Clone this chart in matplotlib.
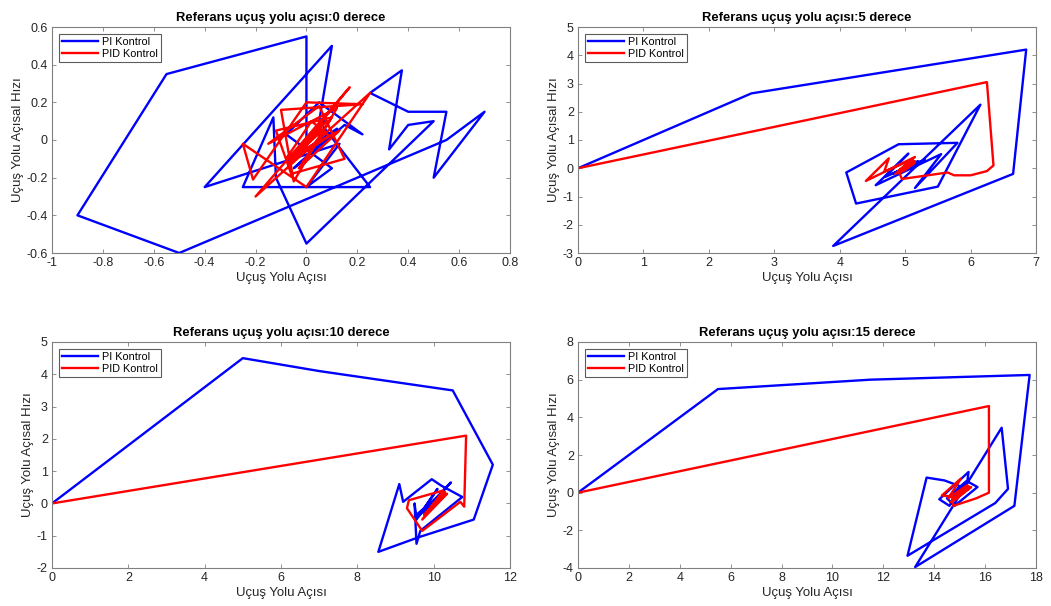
import numpy as np
import matplotlib
matplotlib.use("Agg")
import matplotlib.pyplot as plt

plt.rcParams["font.family"] = ["Liberation Sans", "DejaVu Sans"]
plt.rcParams["axes.unicode_minus"] = False

# ---- veri: 0 derece ----
pi0_x = [0.0, 0.0, -0.55, -0.9, -0.5, 0.55, 0.7, 0.5, 0.55, 0.4, 0.25, 0.375, 0.325, 0.4, 0.5,
         0.0, -0.12, -0.13, -0.25, 0.25, 0.05, 0.1, -0.4, 0.13, 0.0, 0.1, -0.08, 0.05, 0.22,
         0.15, -0.05, 0.12, -0.06, 0.07, -0.03, 0.06, -0.02, 0.05, -0.01, 0.04, 0.0]
pi0_y = [0.0, 0.55, 0.35, -0.4, -0.6, 0.0, 0.15, -0.2, 0.15, 0.15, 0.25, 0.37, -0.05, 0.08, 0.1,
         -0.55, -0.2, 0.12, -0.25, -0.25, 0.1, 0.5, -0.25, -0.02, -0.25, -0.15, 0.03, 0.2, 0.03,
         0.08, -0.15, 0.06, -0.1, 0.1, -0.05, 0.08, -0.04, 0.06, -0.02, 0.04, 0.0]
pid0_x = [0.0, 0.17, -0.2, 0.25, 0.0, -0.25, -0.21, 0.0, 0.22, -0.1, -0.05, 0.12, -0.15, 0.05,
          0.15, -0.06, -0.12, 0.1, -0.03, 0.13, -0.08, 0.02, 0.09, -0.07, 0.06, -0.04, 0.08,
          -0.06, 0.07, -0.05, 0.06, -0.03, 0.05, -0.04, 0.04, -0.02, 0.05, -0.03, 0.03, -0.01,
          0.04, -0.02, 0.02, 0.0]
pid0_y = [0.0, 0.28, -0.3, 0.25, -0.25, -0.02, -0.21, 0.2, 0.19, 0.16, -0.22, 0.17, -0.02, 0.18,
          -0.1, -0.18, 0.05, 0.12, -0.15, 0.05, -0.1, 0.1, 0.02, -0.12, 0.08, -0.06, 0.1,
          -0.1, 0.06, -0.08, 0.09, -0.07, 0.05, -0.09, 0.07, -0.04, 0.06, -0.06, 0.04, -0.05,
          0.05, -0.03, 0.03, 0.0]

# ---- veri: 5 derece ----
pi5_x = [0.0, 2.65, 6.85, 6.65, 3.9, 6.15, 5.5, 4.25, 4.1, 4.9, 5.8, 5.15, 5.55, 4.55, 5.05,
         4.7, 5.3, 4.8, 5.2, 4.85, 5.15, 4.9, 5.1, 4.95, 5.08, 4.97, 5.05, 5.0]
pi5_y = [0.0, 2.65, 4.2, -0.2, -2.75, 2.25, -0.65, -1.25, -0.15, 0.85, 0.9, -0.7, 0.5, -0.6, 0.52,
         -0.3, 0.3, -0.2, 0.25, -0.15, 0.2, -0.1, 0.12, -0.08, 0.08, -0.04, 0.05, 0.0]
pid5_x = [0.0, 6.25, 6.35, 6.25, 6.0, 5.75, 5.65, 4.95, 4.9, 5.15, 4.4, 4.75, 4.68, 5.1, 4.85,
          5.15, 4.9, 5.12, 4.95, 5.15, 4.92, 5.12, 4.97, 5.14, 4.95, 5.1, 5.0, 5.12, 5.02, 5.1,
          4.98, 5.08, 5.03, 5.06, 5.0]
pid5_y = [0.0, 3.05, 0.1, -0.1, -0.25, -0.25, -0.15, -0.38, -0.1, 0.4, -0.45, 0.35, -0.12, 0.3,
          -0.2, 0.25, -0.15, 0.28, -0.12, 0.22, -0.05, 0.3, -0.1, 0.18, 0.0, 0.25, -0.05, 0.2,
          0.02, 0.15, -0.02, 0.12, 0.05, 0.08, 0.0]

# ---- veri: 10 derece ----
pi10_x = [0.0, 5.0, 7.0, 10.5, 11.55, 11.05, 9.6, 8.55, 9.1, 9.2, 9.95, 10.2, 10.75, 9.65, 9.55,
          9.5, 9.55, 10.1, 9.6, 10.45, 9.75, 10.3, 9.55, 10.25, 9.8, 10.2, 9.85, 10.15, 9.9,
          10.1, 9.95, 10.05, 10.0]
pi10_y = [0.0, 4.5, 4.1, 3.5, 1.2, -0.5, -1.05, -1.5, 0.6, 0.05, 0.75, 0.55, 0.2, -0.85, -1.25,
          0.0, -0.5, 0.45, -0.4, 0.65, -0.3, 0.3, -0.35, 0.35, -0.2, 0.25, -0.15, 0.2, -0.1,
          0.1, -0.05, 0.05, 0.0]
pid10_x = [0.0, 10.85, 10.8, 10.7, 9.7, 9.3, 9.35, 10.25, 9.7, 10.35, 9.75, 10.25, 9.8, 10.3,
           9.85, 10.2, 9.9, 10.25, 9.92, 10.15, 9.95, 10.12, 9.98, 10.08, 10.0]
pid10_y = [0.0, 2.1, -0.1, 0.05, -0.85, -0.15, 0.1, 0.4, -0.5, 0.3, -0.35, 0.25, -0.3, 0.35,
           -0.25, 0.2, -0.2, 0.3, -0.12, 0.15, -0.1, 0.12, -0.05, 0.06, 0.0]

# ---- veri: 15 derece ----
pi15_x = [0.0, 5.5, 11.5, 17.75, 17.15, 13.25, 16.65, 16.9, 16.4, 12.95, 13.7, 14.4, 15.0, 14.6,
          14.2, 15.35, 15.3, 15.7, 14.8, 14.5, 15.25, 14.7, 15.2, 14.8, 15.15, 14.85, 15.1,
          14.92, 15.05, 15.0]
pi15_y = [0.0, 5.5, 6.0, 6.25, -0.7, -3.95, 3.45, 0.2, -0.55, -3.35, 0.8, 0.65, 0.35, -0.7,
          -0.35, 1.1, 0.6, 0.3, -0.7, -0.3, 0.6, -0.45, 0.35, -0.3, 0.25, -0.2, 0.15, -0.1,
          0.05, 0.0]
pid15_x = [0.0, 16.15, 16.15, 15.65, 14.75, 14.7, 14.3, 15.05, 14.55, 15.3, 14.65, 15.45, 14.8,
           15.35, 14.75, 15.3, 14.85, 15.25, 14.9, 15.2, 14.95, 15.15, 14.98, 15.08, 15.0]
pid15_y = [0.0, 4.6, 0.0, -0.3, -0.7, -0.2, -0.15, 0.75, -0.3, 0.4, -0.5, 0.3, -0.4, 0.35,
           -0.3, 0.25, -0.35, 0.2, -0.25, 0.15, -0.15, 0.12, -0.08, 0.05, 0.0]

panels = [
    ("Referans uçuş yolu açısı:0 derece", pi0_x, pi0_y, pid0_x, pid0_y,
     (-1, 0.8), np.arange(-1, 0.81, 0.2), (-0.6, 0.6), np.arange(-0.6, 0.61, 0.2)),
    ("Referans uçuş yolu açısı:5 derece", pi5_x, pi5_y, pid5_x, pid5_y,
     (0, 7), np.arange(0, 8, 1), (-3, 5), np.arange(-3, 6, 1)),
    ("Referans uçuş yolu açısı:10 derece", pi10_x, pi10_y, pid10_x, pid10_y,
     (0, 12), np.arange(0, 13, 2), (-2, 5), np.arange(-2, 6, 1)),
    ("Referans uçuş yolu açısı:15 derece", pi15_x, pi15_y, pid15_x, pid15_y,
     (0, 18), np.arange(0, 19, 2), (-4, 8), np.arange(-4, 9, 2)),
]

W, H = 1051, 606
boxes = [(52, 27), (578, 27), (52, 342), (578, 342)]
gray = "#262626"
axgray = "#808080"

fig = plt.figure(figsize=(W / 100, H / 100), dpi=100)

def fmt(v):
    s = "%g" % round(v, 6)
    return "0" if s in ("-0", "0") else s

for (title, px, py, dx, dy, xl, xt, yl, yt), (x0, y0) in zip(panels, boxes):
    ax = fig.add_axes([x0 / W, 1 - (y0 + 226) / H, 458 / W, 226 / H])
    ax.plot(px, py, color="#0000ff", lw=1.7, label="PI Kontrol")
    ax.plot(dx, dy, color="#ff0000", lw=1.7, label="PID Kontrol")
    ax.set_xlim(*xl)
    ax.set_ylim(*yl)
    ax.set_xticks(xt)
    ax.set_yticks(yt)
    ax.set_xticklabels([fmt(v) for v in xt])
    ax.set_yticklabels([fmt(v) for v in yt])
    ax.tick_params(direction="in", top=True, right=True, length=3, width=0.6,
                   labelsize=9, colors=axgray, labelcolor=gray, pad=3)
    for sp in ax.spines.values():
        sp.set_color(axgray)
        sp.set_linewidth(0.8)
    ax.set_title(title, fontsize=9.4, fontweight="bold", color="black", pad=4)
    ax.set_xlabel("Uçuş Yolu Açısı", fontsize=9.5, color=gray, labelpad=2)
    ax.set_ylabel("Uçuş Yolu Açısal Hızı", fontsize=9.5, color=gray, labelpad=2)
    leg = ax.legend(loc="upper left", fontsize=7.8, frameon=True, fancybox=False,
                    handlelength=3.3, borderpad=0.3, labelspacing=0.2,
                    handletextpad=0.4, borderaxespad=0.6)
    leg.get_frame().set_edgecolor("#333333")
    leg.get_frame().set_linewidth(0.8)

fig.savefig("out.png", dpi=100)
